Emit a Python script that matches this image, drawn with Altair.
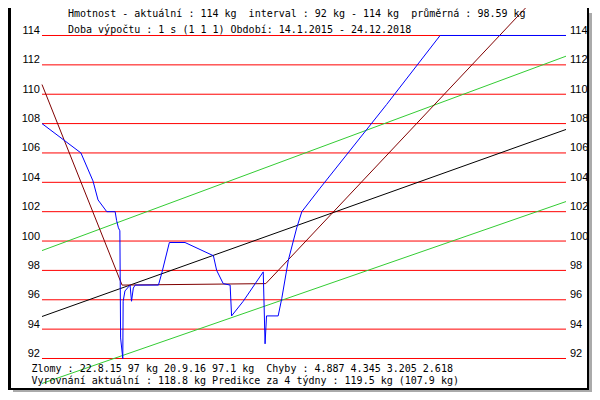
import altair as alt
import pandas as pd

START = "2015-01-14"
END = "2018-12-24"

# weight series (blue)
blue_dates = ["2015-01-14", "2015-05-01", "2015-06-03", "2015-06-17", "2015-07-11",
              "2015-08-03", "2015-08-07", "2015-08-12", "2015-08-16", "2015-08-18",
              "2015-08-24", "2015-08-25", "2015-08-30", "2015-09-13", "2015-09-17",
              "2015-09-22", "2015-09-27", "2015-11-30", "2015-12-09", "2015-12-30",
              "2016-02-11", "2016-04-29", "2016-05-08", "2016-05-26", "2016-06-14",
              "2016-06-18", "2016-07-20", "2016-09-13", "2016-09-18", "2016-09-22",
              "2016-10-24", "2016-11-03", "2016-11-21", "2016-12-14", "2016-12-28",
              "2017-02-16", "2017-08-18", "2018-01-12", "2018-12-24"]
blue_kg = [108.0, 106.0, 104.1, 102.8, 102.0,
           102.0, 101.4, 100.9, 100.7, 93.4,
           92.0, 95.9, 96.6, 97.0, 95.9,
           96.8, 97.0, 97.0, 97.8, 99.9,
           99.9, 99.0, 98.0, 97.1, 97.0,
           94.9, 95.9, 97.9, 93.0, 94.9,
           94.9, 96.1, 98.7, 100.9, 102.0,
           103.6, 109.3, 114.0, 114.0]

# piecewise smoothing (dark red)
fit_dates = ["2015-01-14", "2015-08-22", "2016-09-20", "2018-12-24"]
fit_kg = [110.66, 97.0, 97.1, 118.8]

# linear trend (black) and band (green)
trend_dates = ["2015-01-14", "2018-12-24"]
trend_kg = [94.86, 107.6]
band_hi_kg = [99.35, 112.59]
band_lo_kg = [90.3, 102.69]

levels = [92, 94, 96, 98, 100, 102, 104, 106, 108, 110, 112, 114]

NB = "\u00a0"
header1 = f"Hmotnost - aktuální : 114 kg {NB}interval : 92 kg - 114 kg {NB}průměrná : 98.59 kg"
header2 = "Doba výpočtu : 1 s (1 1 1) Období: 14.1.2015 - 24.12.2018"
footer1 = f"Zlomy : 22.8.15 97 kg 20.9.16 97.1 kg {NB}Chyby : 4.887 4.345 3.205 2.618"
footer2 = "Vyrovnání aktuální : 118.8 kg Predikce za 4 týdny : 119.5 kg (107.9 kg)"


def days(dates):
    return [int(d) for d in (pd.to_datetime(dates) - pd.Timestamp(START)).days]


W, H = 584, 384
xs = alt.Scale(domain=[-93.435, 1511.45], nice=False, zero=False)
ys = alt.Scale(domain=[89.718, 115.873], nice=False, zero=False)

span = days([START, END])

grid_df = pd.DataFrame({"kg": levels, "d0": span[0], "d1": span[1],
                        "lab": [str(v) for v in levels]})
blue_df = pd.DataFrame({"day": days(blue_dates), "kg": blue_kg})
fit_df = pd.DataFrame({"day": days(fit_dates), "kg": fit_kg})
trend_df = pd.DataFrame({"day": days(trend_dates), "kg": trend_kg,
                         "hi": band_hi_kg, "lo": band_lo_kg})

grid = alt.Chart(grid_df).mark_rule(color="#ff0000", strokeWidth=1).encode(
    x=alt.X("d0:Q", scale=xs, axis=None), x2="d1:Q",
    y=alt.Y("kg:Q", scale=ys, axis=None))

lab_left = alt.Chart(grid_df).mark_text(
    font="Liberation Sans", fontSize=11, align="right", baseline="alphabetic",
    dy=-1.5, color="black").encode(
    x=alt.value(32), y=alt.Y("kg:Q", scale=ys, axis=None), text="lab:N")
lab_right = alt.Chart(grid_df).mark_text(
    font="Liberation Sans", fontSize=11, align="left", baseline="alphabetic",
    dy=-1.5, color="black").encode(
    x=alt.value(562), y=alt.Y("kg:Q", scale=ys, axis=None), text="lab:N")


def line(df, field, color):
    return alt.Chart(df).mark_line(color=color, strokeWidth=1, interpolate="linear").encode(
        x=alt.X("day:Q", scale=xs, axis=None),
        y=alt.Y(f"{field}:Q", scale=ys, axis=None))


band_hi = line(trend_df, "hi", "#33cc33")
band_lo = line(trend_df, "lo", "#33cc33")
trend = line(trend_df, "kg", "#000000")
fit = line(fit_df, "kg", "#800000")
blue = line(blue_df, "kg", "#0000ff")


def text_line(s, x, y):
    return alt.Chart(pd.DataFrame({"t": [s]})).mark_text(
        font="DejaVu Sans Mono", fontSize=10, align="left", baseline="alphabetic",
        color="black").encode(x=alt.value(x), y=alt.value(y), text="t:N")


t1 = text_line(header1, 60, 9)
t2 = text_line(header2, 60, 25)
f1 = text_line(footer1, 23.5, 364)
f2 = text_line(footer2, 23.5, 376)

one = pd.DataFrame({"a": [0]})
frame_left = alt.Chart(one).mark_rule(color="black", strokeWidth=3).encode(
    x=alt.value(1.5), y=alt.value(0), y2=alt.value(382))
frame_bottom = alt.Chart(one).mark_rule(color="black", strokeWidth=2).encode(
    x=alt.value(0), x2=alt.value(581), y=alt.value(381))
frame_right = alt.Chart(one).mark_rule(color="black", strokeWidth=2).encode(
    x=alt.value(580), y=alt.value(0), y2=alt.value(382))
shadow_bottom = alt.Chart(one).mark_rule(color="#aaaaaa", strokeWidth=2).encode(
    x=alt.value(5), x2=alt.value(584), y=alt.value(383))
shadow_right = alt.Chart(one).mark_rule(color="#aaaaaa", strokeWidth=3).encode(
    x=alt.value(582.5), y=alt.value(5), y2=alt.value(384))

chart = alt.layer(
    grid, band_hi, band_lo, trend, fit, blue,
    lab_left, lab_right, t1, t2, f1, f2,
    frame_left, frame_bottom, frame_right, shadow_bottom, shadow_right
).properties(
    width=W, height=H, padding=0, autosize=alt.AutoSizeParams(type="none"),
    background="white"
).configure_view(stroke=None)

chart.save("out.html", embed_options={"renderer": "svg", "actions": False})
